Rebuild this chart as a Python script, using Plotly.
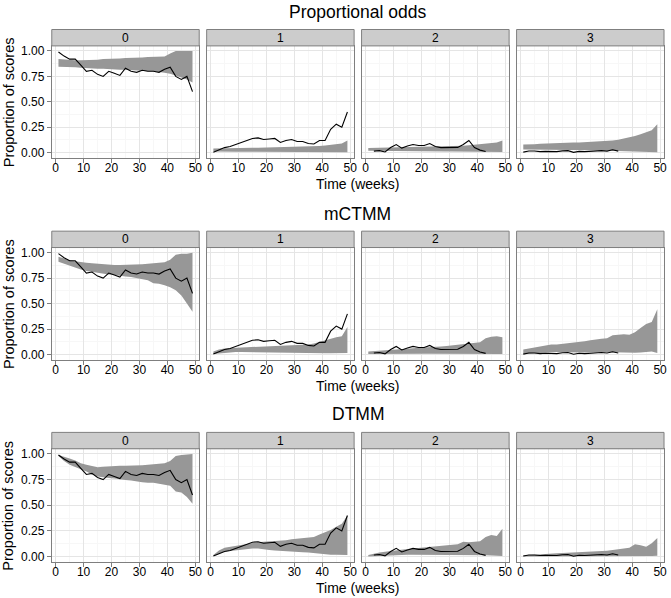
import plotly.graph_objects as go

# ---------------- data ----------------
weeks = [1, 3, 5, 7, 9, 11, 13, 15, 17, 19, 21, 23, 25, 27, 29, 31, 33, 35, 37, 39, 41, 43, 45, 47, 49]
categories = ["0", "1", "2", "3"]
models = ["Proportional odds", "mCTMM", "DTMM"]

obs_0 = [0.99, 0.95, 0.92, 0.92, 0.86, 0.80, 0.81, 0.77, 0.75, 0.80, 0.78, 0.76, 0.83, 0.80, 0.79, 0.81, 0.80, 0.80, 0.79, 0.82, 0.84, 0.75, 0.72, 0.75, 0.60]
obs_1 = [0.005, 0.03, 0.05, 0.06, 0.08, 0.10, 0.12, 0.14, 0.145, 0.13, 0.135, 0.14, 0.10, 0.12, 0.13, 0.11, 0.11, 0.09, 0.085, 0.12, 0.12, 0.23, 0.28, 0.25, 0.40]
obs_2 = [None, 0.015, 0.02, 0.007, 0.05, 0.08, 0.045, 0.065, 0.08, 0.07, 0.07, 0.09, 0.06, 0.05, 0.05, 0.052, 0.052, 0.08, 0.12, 0.05, 0.025, 0.012, None, None, None]
obs_3 = [0.005, 0.016, 0.016, 0.01, 0.013, 0.013, 0.01, 0.018, 0.02, 0.003, 0.013, 0.01, 0.013, 0.02, 0.02, 0.015, 0.028, 0.015, None, None, None, None, None, None, None]

# Proportional odds model: predictive band (lower / upper)
po_lo_0 = [0.845, 0.845, 0.84, 0.84, 0.835, 0.83, 0.83, 0.825, 0.825, 0.82, 0.82, 0.815, 0.815, 0.81, 0.81, 0.805, 0.80, 0.80, 0.795, 0.785, 0.775, 0.76, 0.74, 0.72, 0.69]
po_hi_0 = [0.92, 0.915, 0.91, 0.91, 0.91, 0.91, 0.915, 0.915, 0.92, 0.92, 0.925, 0.925, 0.93, 0.93, 0.935, 0.935, 0.94, 0.94, 0.945, 0.945, 0.975, 1.0, 1.0, 1.0, 1.0]
po_lo_1 = [0.012, 0.01, 0.01, 0.01, 0.01, 0.01, 0.01, 0.01, 0.01, 0.008, 0.008, 0.008, 0.008, 0.007, 0.006, 0.005, 0.005, 0.005, 0.005, 0.004, 0.004, 0.003, 0.003, 0.003, 0.003]
po_hi_1 = [0.04, 0.042, 0.043, 0.044, 0.045, 0.046, 0.047, 0.048, 0.049, 0.05, 0.05, 0.051, 0.052, 0.053, 0.054, 0.056, 0.058, 0.06, 0.062, 0.065, 0.07, 0.078, 0.085, 0.09, 0.12]
po_lo_2 = [0.018, 0.017, 0.017, 0.016, 0.016, 0.015, 0.015, 0.015, 0.014, 0.014, 0.013, 0.013, 0.012, 0.012, 0.011, 0.011, 0.01, 0.01, 0.009, 0.009, 0.008, 0.008, 0.007, 0.007, 0.006]
po_hi_2 = [0.045, 0.046, 0.047, 0.047, 0.048, 0.049, 0.05, 0.05, 0.051, 0.052, 0.053, 0.054, 0.055, 0.056, 0.057, 0.06, 0.063, 0.067, 0.072, 0.077, 0.082, 0.088, 0.095, 0.10, 0.12]
po_lo_3 = [0.03, 0.03, 0.029, 0.028, 0.028, 0.027, 0.027, 0.026, 0.026, 0.025, 0.025, 0.024, 0.024, 0.023, 0.022, 0.021, 0.02, 0.019, 0.018, 0.016, 0.014, 0.012, 0.01, 0.008, 0.005]
po_hi_3 = [0.08, 0.085, 0.083, 0.087, 0.09, 0.092, 0.094, 0.096, 0.098, 0.10, 0.10, 0.103, 0.106, 0.108, 0.112, 0.115, 0.12, 0.128, 0.138, 0.15, 0.165, 0.18, 0.20, 0.22, 0.28]

# mCTMM
mc_lo_0 = [0.91, 0.89, 0.87, 0.85, 0.835, 0.82, 0.81, 0.80, 0.79, 0.785, 0.78, 0.77, 0.765, 0.76, 0.75, 0.745, 0.73, 0.70, 0.695, 0.68, 0.66, 0.63, 0.58, 0.50, 0.42]
mc_hi_0 = [0.96, 0.94, 0.925, 0.915, 0.905, 0.90, 0.895, 0.89, 0.885, 0.885, 0.88, 0.88, 0.88, 0.88, 0.88, 0.885, 0.89, 0.895, 0.90, 0.905, 0.93, 0.98, 0.99, 0.99, 1.0]
mc_lo_1 = [0.006, 0.012, 0.018, 0.022, 0.025, 0.026, 0.025, 0.022, 0.02, 0.018, 0.016, 0.015, 0.014, 0.013, 0.012, 0.011, 0.011, 0.01, 0.011, 0.012, 0.013, 0.014, 0.014, 0.015, 0.016]
mc_hi_1 = [0.03, 0.05, 0.06, 0.065, 0.068, 0.07, 0.072, 0.074, 0.076, 0.078, 0.08, 0.082, 0.084, 0.088, 0.092, 0.095, 0.098, 0.10, 0.11, 0.125, 0.14, 0.16, 0.17, 0.18, 0.27]
mc_lo_2 = [0.005, 0.006, 0.007, 0.008, 0.008, 0.008, 0.008, 0.008, 0.008, 0.008, 0.008, 0.008, 0.008, 0.008, 0.008, 0.008, 0.008, 0.008, 0.008, 0.007, 0.007, 0.006, 0.006, 0.006, 0.006]
mc_hi_2 = [0.03, 0.035, 0.04, 0.045, 0.05, 0.055, 0.058, 0.06, 0.063, 0.066, 0.068, 0.072, 0.076, 0.08, 0.085, 0.09, 0.095, 0.10, 0.11, 0.11, 0.12, 0.16, 0.175, 0.18, 0.17]
mc_lo_3 = [0.006, 0.01, 0.015, 0.02, 0.024, 0.026, 0.025, 0.024, 0.022, 0.02, 0.018, 0.02, 0.022, 0.024, 0.025, 0.024, 0.022, 0.02, 0.018, 0.016, 0.018, 0.02, 0.022, 0.03, 0.016]
mc_hi_3 = [0.05, 0.06, 0.07, 0.08, 0.09, 0.10, 0.10, 0.105, 0.115, 0.12, 0.125, 0.13, 0.14, 0.15, 0.155, 0.16, 0.19, 0.195, 0.20, 0.195, 0.22, 0.26, 0.30, 0.32, 0.445]

# DTMM
dt_lo_0 = [0.98, 0.93, 0.895, 0.87, 0.85, 0.83, 0.80, 0.78, 0.77, 0.765, 0.76, 0.75, 0.745, 0.74, 0.73, 0.725, 0.72, 0.72, 0.71, 0.70, 0.69, 0.635, 0.625, 0.58, 0.515]
dt_hi_0 = [0.99, 0.975, 0.955, 0.935, 0.91, 0.895, 0.88, 0.87, 0.875, 0.88, 0.88, 0.885, 0.885, 0.885, 0.885, 0.89, 0.895, 0.90, 0.90, 0.91, 0.93, 0.98, 0.99, 0.995, 1.0]
dt_lo_1 = [0.005, 0.03, 0.05, 0.055, 0.062, 0.068, 0.072, 0.078, 0.08, 0.07, 0.065, 0.06, 0.055, 0.05, 0.05, 0.045, 0.042, 0.04, 0.035, 0.025, 0.02, 0.018, 0.018, 0.016, 0.016]
dt_hi_1 = [0.016, 0.06, 0.085, 0.095, 0.105, 0.115, 0.125, 0.135, 0.14, 0.145, 0.148, 0.15, 0.155, 0.16, 0.17, 0.175, 0.18, 0.185, 0.19, 0.215, 0.235, 0.26, 0.29, 0.32, 0.40]
dt_lo_2 = [0.0, 0.003, 0.006, 0.01, 0.014, 0.016, 0.017, 0.018, 0.018, 0.018, 0.018, 0.018, 0.018, 0.018, 0.018, 0.018, 0.018, 0.017, 0.016, 0.015, 0.014, 0.012, 0.01, 0.008, 0.006]
dt_hi_2 = [0.016, 0.03, 0.04, 0.048, 0.056, 0.065, 0.07, 0.075, 0.08, 0.085, 0.087, 0.09, 0.095, 0.10, 0.105, 0.108, 0.12, 0.145, 0.14, 0.145, 0.15, 0.19, 0.21, 0.20, 0.27]
dt_lo_3 = [0.0, 0.0, 0.0, 0.001, 0.001, 0.001, 0.001, 0.002, 0.002, 0.002, 0.002, 0.003, 0.003, 0.003, 0.003, 0.004, 0.004, 0.004, 0.005, 0.005, 0.005, 0.006, 0.006, 0.006, 0.008]
dt_hi_3 = [0.01, 0.015, 0.02, 0.024, 0.027, 0.03, 0.033, 0.036, 0.038, 0.04, 0.042, 0.045, 0.048, 0.052, 0.055, 0.058, 0.065, 0.075, 0.08, 0.087, 0.12, 0.11, 0.097, 0.13, 0.18]

y_ticks = [0, 0.25, 0.5, 0.75, 1.0]
y_ticklabels = ["0.00", "0.25", "0.50", "0.75", "1.00"]
x_ticks = [0, 10, 20, 30, 40, 50]

observed = [obs_0, obs_1, obs_2, obs_3]
bands = {
    "Proportional odds": [(po_lo_0, po_hi_0), (po_lo_1, po_hi_1), (po_lo_2, po_hi_2), (po_lo_3, po_hi_3)],
    "mCTMM": [(mc_lo_0, mc_hi_0), (mc_lo_1, mc_hi_1), (mc_lo_2, mc_hi_2), (mc_lo_3, mc_hi_3)],
    "DTMM": [(dt_lo_0, dt_hi_0), (dt_lo_1, dt_hi_1), (dt_lo_2, dt_hi_2), (dt_lo_3, dt_hi_3)],
}

# ---------------- layout (pixels) ----------------
W, H = 671, 598
FONT = "Liberation Sans, Arial, sans-serif"
panel_x = [(52, 200.1), (207.6, 355.7), (363.2, 511.4), (518.9, 667)]
panel_top = [44.2, 247.2, 449.8]
panel_bot = [156.8, 360.1, 563.5]
strip_h = 16.5
title_y = [10, 213, 415]

GRID = "#E5E5E5"
MINOR = "#F7F7F7"
BORDER = "#7F7F7F"
RIBBON = "#979797"


def fx(x):
    return x / W


def fy(y):
    return 1 - y / H


fig = go.Figure()
shapes = []
annotations = []

for r, model in enumerate(models):
    for c, cat in enumerate(categories):
        k = r * 4 + c + 1
        xa = "x" if k == 1 else f"x{k}"
        ya = "y" if k == 1 else f"y{k}"
        lo, hi = bands[model][c]
        fig.add_trace(go.Scatter(x=weeks, y=lo, mode="lines", line=dict(width=0, color=RIBBON),
                                 xaxis=xa, yaxis=ya, showlegend=False, hoverinfo="skip"))
        fig.add_trace(go.Scatter(x=weeks, y=hi, mode="lines", line=dict(width=0, color=RIBBON),
                                 fill="tonexty", fillcolor=RIBBON,
                                 xaxis=xa, yaxis=ya, showlegend=False, hoverinfo="skip"))
        fig.add_trace(go.Scatter(x=weeks, y=observed[c], mode="lines",
                                 line=dict(width=1.1, color="black"), connectgaps=False,
                                 xaxis=xa, yaxis=ya, showlegend=False))

        x0, x1 = panel_x[c]
        xkey = "xaxis" if k == 1 else f"xaxis{k}"
        ykey = "yaxis" if k == 1 else f"yaxis{k}"
        fig.layout[xkey] = dict(
            domain=[fx(x0), fx(x1)], anchor=ya, range=[-1.4, 51.4],
            tickvals=x_ticks, ticks="outside", ticklen=4, tickcolor=BORDER, tickwidth=1,
            ticklabelstandoff=-5,
            showgrid=True, gridcolor=GRID, gridwidth=1, zeroline=False,
            minor=dict(tickvals=[5, 15, 25, 35, 45], showgrid=True, gridcolor=MINOR, ticks=""),
            showline=True, linecolor=BORDER, linewidth=1, mirror=True,
            tickfont=dict(family=FONT, size=12, color="black"),
        )
        fig.layout[ykey] = dict(
            domain=[fy(panel_bot[r]), fy(panel_top[r])], anchor=xa, range=[-0.05, 1.05],
            tickvals=y_ticks, ticktext=y_ticklabels,
            showticklabels=(c == 0), ticks="outside" if c == 0 else "",
            ticklen=4, tickcolor=BORDER, tickwidth=1,
            showgrid=True, gridcolor=GRID, gridwidth=1, zeroline=False,
            minor=dict(tickvals=[0.125, 0.375, 0.625, 0.875], showgrid=True, gridcolor=MINOR, ticks=""),
            showline=True, linecolor=BORDER, linewidth=1, mirror=True,
            tickfont=dict(family=FONT, size=12, color="black"),
        )

        # facet strip
        st, sb = panel_top[r] - strip_h, panel_top[r]
        shapes.append(dict(type="rect", xref="paper", yref="paper",
                           x0=fx(x0), x1=fx(x1), y0=fy(sb), y1=fy(st),
                           fillcolor="#CCCCCC", line=dict(color=BORDER, width=1), layer="above"))
        annotations.append(dict(text=cat, xref="paper", yref="paper",
                                x=fx((x0 + x1) / 2), y=fy((st + sb) / 2),
                                showarrow=False, xanchor="center", yanchor="middle",
                                font=dict(family=FONT, size=12, color="black")))

    # row title
    annotations.append(dict(text=model, xref="paper", yref="paper",
                            x=fx((panel_x[0][0] + panel_x[3][1]) / 2), y=fy(title_y[r]),
                            showarrow=False, xanchor="center", yanchor="middle",
                            font=dict(family=FONT, size=17.5, color="black")))
    # axis titles
    annotations.append(dict(text="Time (weeks)", xref="paper", yref="paper",
                            x=fx((panel_x[0][0] + panel_x[3][1]) / 2), y=fy(panel_bot[r] + 26),
                            showarrow=False, xanchor="center", yanchor="middle",
                            font=dict(family=FONT, size=14, color="black")))
    annotations.append(dict(text="Proportion of scores", xref="paper", yref="paper",
                            x=fx(8.5), y=fy((panel_top[r] + panel_bot[r]) / 2), textangle=-90,
                            showarrow=False, xanchor="center", yanchor="middle",
                            font=dict(family=FONT, size=14.5, color="black")))

fig.update_layout(
    width=W, height=H, margin=dict(l=0, r=0, t=0, b=0),
    paper_bgcolor="white", plot_bgcolor="white",
    shapes=shapes, annotations=annotations, showlegend=False,
)

fig.write_html("out.html", config={"displayModeBar": False},
               post_script="document.body.style.margin='0';document.body.style.overflow='hidden';")
